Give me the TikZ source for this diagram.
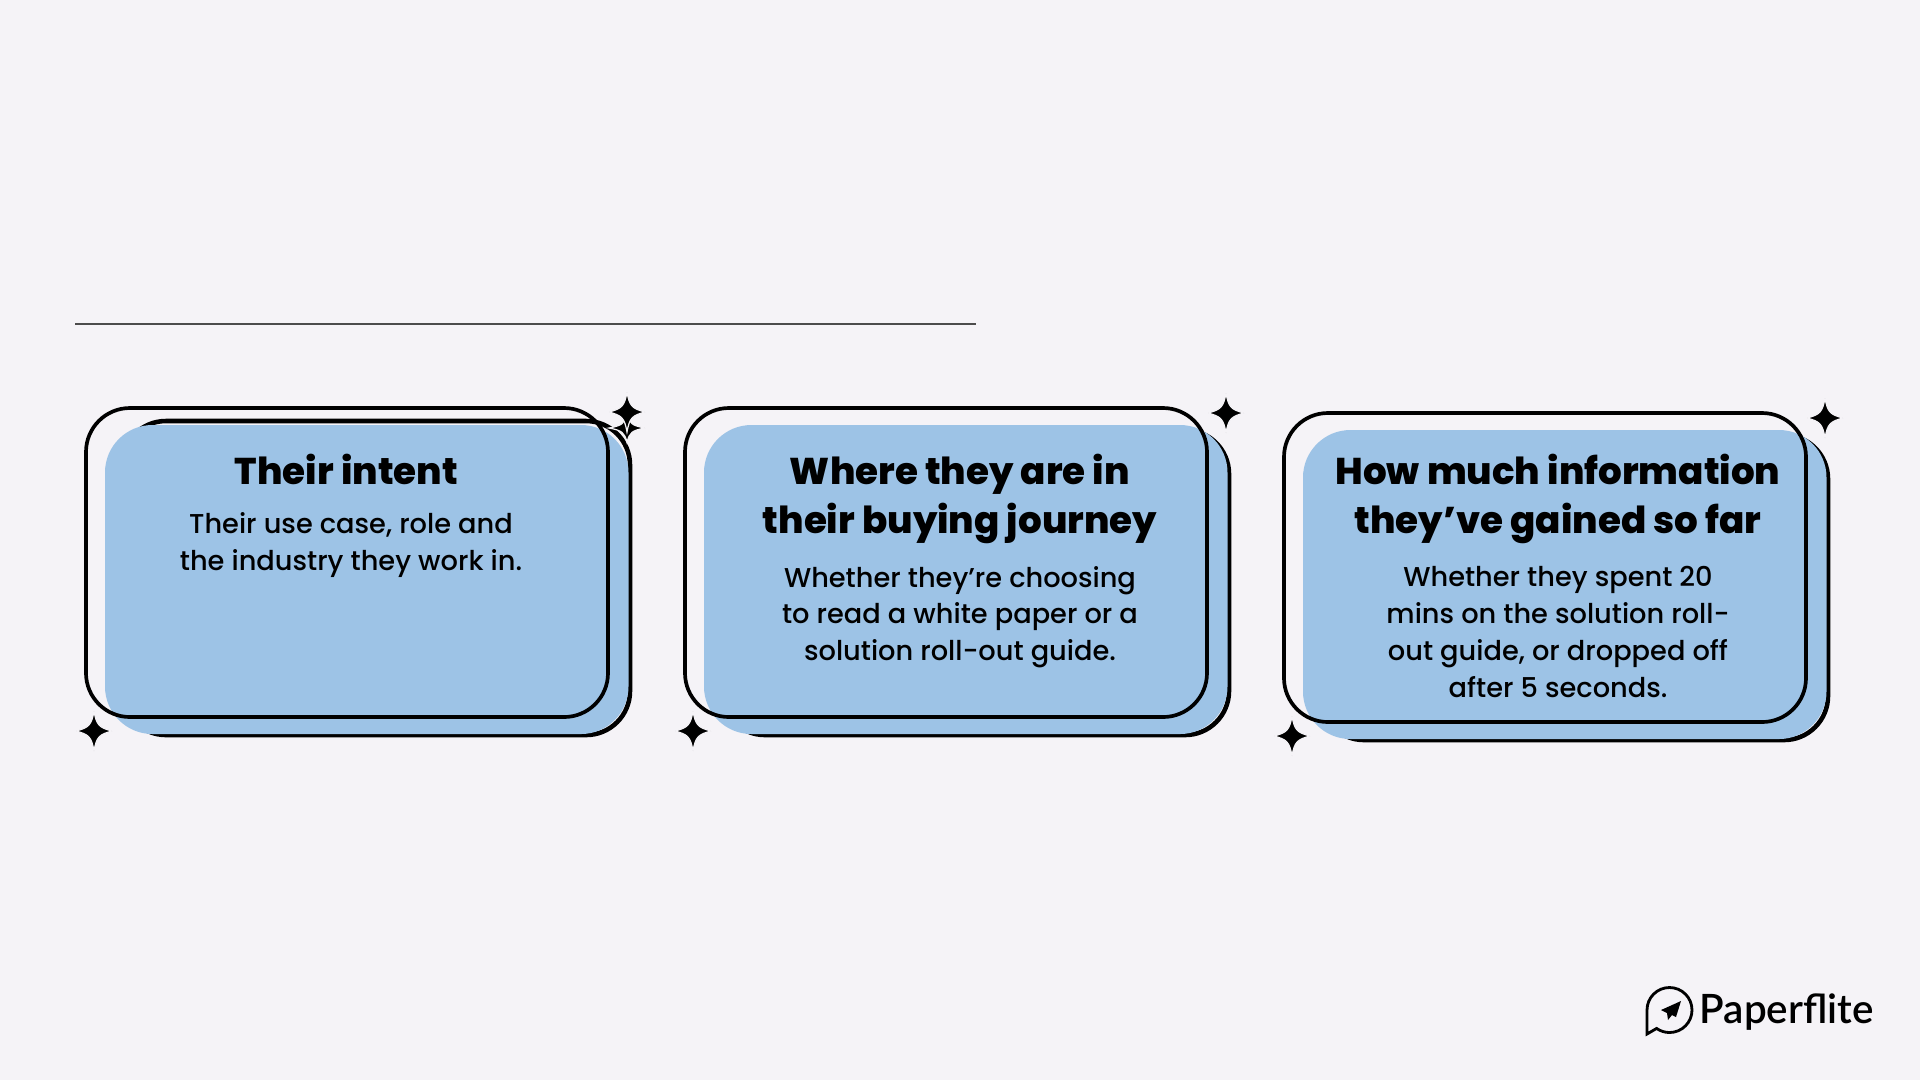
\documentclass[tikz,border=0pt]{standalone}
\usepackage{fontspec}
\setmainfont{Poppins}[BoldFont={Poppins ExtraBold}]
\newfontfamily\bodyfont{Poppins Medium}
\newfontfamily\logofont{Lato Semibold}
\definecolor{pagebg}{HTML}{F5F3F7}
\definecolor{cardblue}{HTML}{9DC3E6}
\tikzset{
    outline/.style={draw=black, line width=1.05pt, rounded corners=12.5pt},
    backline/.style={draw=black, line width=1.3pt, rounded corners=12.5pt},
    cardfill/.style={fill=cardblue, rounded corners=13.5pt},
    heading/.style={align=center, font=\fontsize{10.6}{14}\selectfont\bfseries, inner sep=0pt},
    bodytext/.style={align=center, font=\fontsize{7.75}{10.45}\bodyfont, inner sep=0pt},
    sparkle/.pic={
        \filldraw[fill=black, draw=pagebg, line width=0.35pt] (0,-20) .. controls (2.5,-6) and (5,-3.5) .. (18,0)
            .. controls (5,3.5) and (2.5,6) .. (0,20)
            .. controls (-2.5,6) and (-5,3.5) .. (-18,0)
            .. controls (-5,-3.5) and (-2.5,-6) .. (0,-20) -- cycle;
    }
}
\begin{document}
\begin{tikzpicture}[x=0.1mm, y=-0.1mm]
    \useasboundingbox[fill=pagebg] (0,0) rectangle (1920,1080);
    \draw[draw=black!70, line width=0.35pt] (75,324) -- (976,324);

    % first card
    \draw[backline] (122,421) rectangle (630,735);
    \fill[cardfill] (105,425) rectangle (628.5,734);
    \draw[outline] (86,408) rectangle (608,717);
    \pic at (627,428) [yscale=0.72] {sparkle};
    \pic at (627,412) {sparkle};
    \pic at (94,731) {sparkle};
    \node[heading] (intent) at (346.5,469) {Their intent};
    \node[bodytext] (intentbody) at (351,545) {Their use case, role and\\the industry they work in.};

    % second card
    \draw[backline] (721,430) rectangle (1229,735);
    \fill[cardfill] (704,425) rectangle (1227.5,734);
    \draw[outline] (685,408) rectangle (1207,717);
    \pic at (1226,413) {sparkle};
    \pic at (693,731) {sparkle};
    \node[heading] (journey) at (960,499) {Where they are in\\their buying journey};
    \node[bodytext] (journeybody) at (960,617) {Whether they’re choosing\\to read a white paper or a\\solution roll-out guide.};

    % third card
    \draw[backline] (1320,435) rectangle (1828,740);
    \fill[cardfill] (1303,430) rectangle (1826.5,739);
    \draw[outline] (1284,413) rectangle (1806,722);
    \pic at (1825,418) {sparkle};
    \pic at (1292,736) {sparkle};
    \node[heading] (gained) at (1558,499) {How much information\\they’ve gained so far};
    \node[bodytext] (gainedbody) at (1558,632) {Whether they spent 20\\mins on the solution roll-\\out guide, or dropped off\\after 5 seconds.};

    % logo
    \draw[line width=0.8pt, line join=miter] (1647,1010) arc (180:485:22.5) -- (1647,1034) -- cycle;
    \fill[black] (1681,1001) -- (1661,1010) -- (1667,1013) -- (1668,1020) -- (1672,1015) -- (1676,1017) -- cycle;
    \node[anchor=base west, inner sep=0pt, font=\fontsize{11.5}{14}\logofont] (logotext) at (1699,1023) {Paperflite};
\end{tikzpicture}
\end{document}
